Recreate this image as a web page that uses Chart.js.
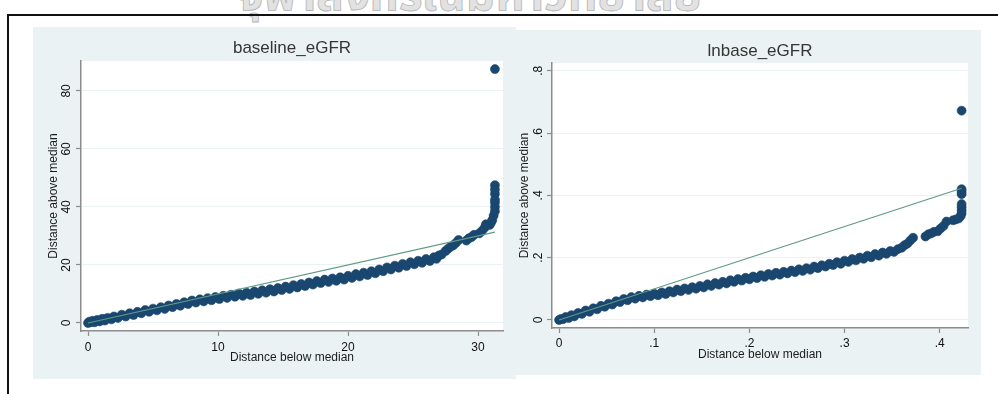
<!DOCTYPE html>
<html>
<head>
<meta charset="utf-8">
<script src="https://cdn.jsdelivr.net/npm/chart.js@4/dist/chart.umd.min.js"></script>
<style>
  body { margin: 0; background: #fff; width: 998px; height: 394px; overflow: hidden; position: relative; }
  #frame { position: absolute; left: 7px; top: 14px; width: 1000px; height: 400px; border-top: 2px solid #111; border-left: 2px solid #111; }
  #mark { position: absolute; left: 0; top: -39px; width: 940px; text-align: center; font-size: 46px; font-weight: bold;
          font-family: "Noto Sans Thai", "Loma", "Garuda", "Norasi", "Tlwg Typo", "DejaVu Sans", sans-serif;
          color: #e2e2e2; -webkit-text-stroke: 0.8px #b5b5b5; white-space: nowrap; }
  canvas { position: absolute; }
  #left { left: 33px; top: 27px; }
  #right { left: 516px; top: 30px; }
</style>
</head>
<body>
<div id="mark">จุฬาลงกรณ์มหาวิทยาลัย</div>
<div id="frame"></div>
<canvas id="left" width="483" height="352"></canvas>
<canvas id="right" width="465" height="345"></canvas>
<script>
// baseline_eGFR: distance below median (x) vs distance above median (y)
const leftX = [0, 0.1, 0.2, 0.35, 0.5, 0.7, 0.9, 1.1, 1.3, 1.5, 1.8, 2.0, 2.3, 2.6, 2.9, 3.2, 3.5, 3.8, 4.1, 4.4,
  4.7, 5.0, 5.3, 5.6, 5.9, 6.2, 6.5, 6.8, 7.1, 7.4, 7.7, 8.0, 8.3, 8.6, 8.9, 9.2, 9.5, 9.8, 10.1, 10.4,
  10.7, 11.0, 11.3, 11.6, 11.9, 12.2, 12.5, 12.8, 13.1, 13.4, 13.7, 14.0, 14.3, 14.6, 14.9, 15.2, 15.5, 15.8, 16.1, 16.4,
  16.7, 17.0, 17.3, 17.6, 17.9, 18.2, 18.5, 18.8, 19.1, 19.4, 19.7, 20.0, 20.3, 20.6, 20.9, 21.2, 21.5, 21.8, 22.1, 22.4,
  22.7, 23.0, 23.3, 23.6, 23.9, 24.2, 24.5, 24.8, 25.1, 25.4, 25.7, 26.0, 26.3, 26.6, 26.8, 27.0, 27.2, 27.5, 27.7, 27.9,
  28.1, 28.3, 28.5, 29.1, 29.3, 29.5, 29.7, 30.1, 30.3, 30.5, 30.6, 30.9, 31.0, 31.1, 31.2, 31.3, 31.3, 31.3, 31.3, 31.3,
  31.3, 31.3, 31.3];
const leftY = [0, 0.45, 0.25, 0.75, 0.25, 1.05, 0.55, 1.45, 0.85, 1.75, 1.25, 2.25, 1.75, 2.85, 2.25, 3.35, 2.75, 3.85, 3.35, 4.45,
  3.85, 4.95, 4.35, 5.45, 4.85, 6.05, 5.45, 6.55, 5.95, 7.15, 6.55, 7.75, 7.05, 8.15, 7.45, 8.55, 7.85, 8.95, 8.25, 9.35,
  8.65, 9.75, 9.05, 10.15, 9.35, 10.45, 9.65, 10.85, 10.05, 11.25, 10.45, 11.65, 10.85, 12.05, 11.35, 12.55, 11.75, 13.05, 12.25, 13.45,
  12.75, 13.95, 13.25, 14.45, 13.75, 14.95, 14.15, 15.35, 14.55, 15.75, 14.95, 16.25, 15.55, 16.85, 16.05, 17.35, 16.55, 17.85, 17.15, 18.45,
  17.85, 19.15, 18.45, 19.75, 19.05, 20.35, 19.65, 20.95, 20.25, 21.45, 20.75, 22.05, 21.35, 22.65, 22.1, 23.3, 23.6, 24.8, 25.6, 26.3,
  26.8, 27.6, 28.6, 28.4, 29.2, 29.6, 30.4, 30.9, 31.7, 32.8, 34.0, 33.8, 34.6, 35.5, 37.0, 38.5, 40.0, 41.5, 44.5, 46.0,
  47.5, 42.5, 87.5];
const leftLineX = [0, 31.3];
const leftLineY = [0, 31.3];
const leftXTicks = [0, 10, 20, 30];
const leftXTickLabels = ["0", "10", "20", "30"];
const leftYTicks = [0, 20, 40, 60, 80];
const leftYTickLabels = ["0", "20", "40", "60", "80"];

// lnbase_eGFR
const rightX = [0, .002, .004, .007, .01, .013, .016, .02, .024, .028, .032, .036, .04, .044, .048, .052, .056, .06, .064, .068,
  .072, .076, .08, .084, .088, .092, .096, .1, .104, .108, .112, .116, .12, .124, .128, .132, .136, .14, .144, .148,
  .152, .156, .16, .164, .168, .172, .176, .18, .184, .188, .192, .196, .2, .204, .208, .212, .216, .22, .224, .228,
  .232, .236, .24, .244, .248, .252, .256, .26, .264, .268, .272, .276, .28, .284, .288, .292, .296, .3, .304, .308,
  .312, .316, .32, .324, .328, .332, .336, .34, .344, .348, .352, .356, .36, .363, .366, .369, .372, .385, .388, .391,
  .394, .398, .401, .404, .407, .414, .417, .42, .422, .423, .423, .423, .423, .423, .423, .423, .423];
const rightY = [0, .0035, .0025, .0095, .0065, .0155, .0115, .0225, .0195, .0305, .0265, .0375, .0345, .0455, .0425, .0525, .0495, .0605, .0575, .0675,
  .0635, .0735, .0685, .0775, .0725, .0815, .0765, .0845, .0795, .0885, .0835, .0925, .0885, .0975, .0925, .1015, .0965, .1055, .1005, .1095,
  .1045, .1145, .1095, .1185, .1135, .1225, .1175, .1275, .1225, .1315, .1265, .1355, .1305, .1395, .1345, .1435, .1385, .1475, .1425, .1515,
  .1455, .1545, .1495, .1585, .1535, .1625, .1575, .1665, .1615, .1715, .1665, .1755, .1715, .1805, .1765, .1855, .1805, .1905, .1865, .1955,
  .1915, .2005, .1965, .2065, .2015, .2115, .2065, .2165, .2125, .2215, .2185, .2275, .232, .240, .245, .255, .264, .268, .275, .278,
  .283, .285, .294, .302, .316, .320, .323, .326, .334, .342, .352, .362, .372, .404, .412, .420, .672];
const rightLineX = [0, 0.423];
const rightLineY = [0, 0.423];
const rightXTicks = [0, .1, .2, .3, .4];
const rightXTickLabels = ["0", ".1", ".2", ".3", ".4"];
const rightYTicks = [0, .2, .4, .6, .8];
const rightYTickLabels = ["0", ".2", ".4", ".6", ".8"];

const navy = '#1a476f';
const refGreen = '#5f9a86';
const panelBg = '#eaf2f3';
const fontFamily = '"Liberation Sans", Arial, sans-serif';

const panelBackground = {
  id: 'panelBackground',
  beforeDraw(chart) {
    const { ctx, chartArea: a } = chart;
    ctx.save();
    ctx.fillStyle = panelBg;
    ctx.fillRect(0, 0, chart.width, chart.height);
    ctx.fillStyle = '#fff';
    ctx.fillRect(a.left, a.top, a.right - a.left, a.bottom - a.top);
    ctx.restore();
  }
};

function toPoints(xs, ys) {
  return xs.map((x, i) => ({ x: x, y: ys[i] }));
}

function symPlot(canvasId, p) {
  return new Chart(document.getElementById(canvasId), {
    type: 'scatter',
    data: {
      datasets: [
        {
          type: 'line',
          data: toPoints(p.lineX, p.lineY),
          borderColor: refGreen,
          borderWidth: 1.2,
          pointRadius: 0,
          fill: false
        },
        {
          data: toPoints(p.xs, p.ys),
          backgroundColor: navy,
          borderColor: navy,
          borderWidth: 0.6,
          pointRadius: 4.5
        }
      ]
    },
    options: {
      responsive: false,
      animation: false,
      events: [],
      layout: { padding: { left: 0, right: 13, top: 0, bottom: 0 } },
      plugins: {
        legend: { display: false },
        tooltip: { enabled: false },
        title: {
          display: true,
          text: p.title,
          fullSize: false,
          color: '#353535',
          font: { family: fontFamily, size: 17, weight: 'normal' },
          padding: { top: 10.8, bottom: p.titleBottom }
        }
      },
      scales: {
        x: {
          type: 'linear',
          min: p.xMin, max: p.xMax,
          afterBuildTicks: s => { s.ticks = p.xTicks.map(v => ({ value: v })); },
          afterFit: s => { s.height = p.xHeight; },
          grid: { drawOnChartArea: false, tickLength: 5, tickColor: '#8c8c8c', tickWidth: 1.2 },
          border: { color: '#8c8c8c', width: 1.5 },
          ticks: {
            padding: p.xTickPad, color: '#111',
            font: { family: fontFamily, size: 12 },
            callback: (v, i) => p.xTickLabels[i]
          },
          title: {
            display: true, text: 'Distance below median', color: '#1c1c1c',
            font: { family: fontFamily, size: 12 },
            padding: { top: 0, bottom: p.xTitlePad }
          }
        },
        y: {
          type: 'linear',
          min: p.yMin, max: p.yMax,
          afterBuildTicks: s => { s.ticks = p.yTicks.map(v => ({ value: v })); },
          afterFit: s => { s.width = p.yWidth; },
          grid: { color: panelBg, lineWidth: 1, tickLength: 5, tickColor: '#8c8c8c', tickWidth: 1.2 },
          border: { color: '#8c8c8c', width: 1.5 },
          ticks: {
            padding: p.yTickPad, color: '#111', minRotation: 90, maxRotation: 90, crossAlign: 'center',
            font: { family: fontFamily, size: 12 },
            callback: (v, i) => p.yTickLabels[i]
          },
          title: {
            display: true, text: 'Distance above median', color: '#1c1c1c',
            font: { family: fontFamily, size: 12 },
            padding: { top: p.yTitlePad, bottom: 0 }
          }
        }
      }
    },
    plugins: [panelBackground]
  });
}

symPlot('left', {
  title: 'baseline_eGFR', titleBottom: 2.8,
  xs: leftX, ys: leftY, lineX: leftLineX, lineY: leftLineY,
  xMin: -0.54, xMax: 31.92, yMin: -2.76, yMax: 90.3,
  xTicks: leftXTicks, xTickLabels: leftXTickLabels,
  yTicks: leftYTicks, yTickLabels: leftYTickLabels,
  xHeight: 48, yWidth: 48, xTickPad: 4, yTickPad: 2.3, xTitlePad: 14.3, yTitlePad: 13.8
});

symPlot('right', {
  title: 'lnbase_eGFR', titleBottom: 1.8,
  xs: rightX, ys: rightY, lineX: rightLineX, lineY: rightLineY,
  xMin: -0.0074, xMax: 0.4297, yMin: -0.0257, yMax: 0.825,
  xTicks: rightXTicks, xTickLabels: rightXTickLabels,
  yTicks: rightYTicks, yTickLabels: rightYTickLabels,
  xHeight: 47, yWidth: 36, xTickPad: 3.5, yTickPad: 3, xTitlePad: 13.3, yTitlePad: 1.8
});
</script>
</body>
</html>
